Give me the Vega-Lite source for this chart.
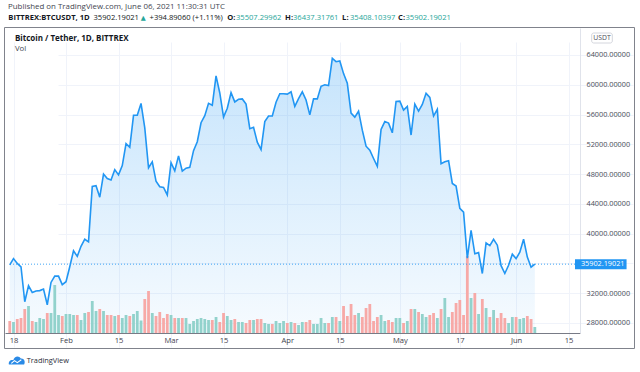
{
  "$schema": "https://vega.github.io/schema/vega-lite/v6.json",
  "width": 630,
  "height": 321,
  "autosize": {"type": "none"},
  "padding": {"left": 4, "top": 27, "right": 6, "bottom": 24},
  "background": "white",
  "config": {"view": {"stroke": "#80838c", "strokeWidth": 1}, "font": "Open Sans"},
  "data": {"values": [
    {"date":"2021-01-17","close":35800,"vol":1200,"dir":"down"},
    {"date":"2021-01-18","close":36650,"vol":1100,"dir":"up"},
    {"date":"2021-01-19","close":36000,"vol":1400,"dir":"down"},
    {"date":"2021-01-20","close":35550,"vol":1500,"dir":"down"},
    {"date":"2021-01-21","close":30850,"vol":2400,"dir":"down"},
    {"date":"2021-01-22","close":33000,"vol":2700,"dir":"up"},
    {"date":"2021-01-23","close":32100,"vol":1200,"dir":"down"},
    {"date":"2021-01-24","close":32300,"vol":1100,"dir":"up"},
    {"date":"2021-01-25","close":32350,"vol":1500,"dir":"up"},
    {"date":"2021-01-26","close":32550,"vol":1400,"dir":"up"},
    {"date":"2021-01-27","close":30450,"vol":2000,"dir":"down"},
    {"date":"2021-01-28","close":33450,"vol":2000,"dir":"up"},
    {"date":"2021-01-29","close":34300,"vol":4800,"dir":"up"},
    {"date":"2021-01-30","close":34300,"vol":1800,"dir":"up"},
    {"date":"2021-01-31","close":33150,"vol":1700,"dir":"down"},
    {"date":"2021-02-01","close":33550,"vol":1900,"dir":"up"},
    {"date":"2021-02-02","close":35550,"vol":1900,"dir":"up"},
    {"date":"2021-02-03","close":37700,"vol":1800,"dir":"up"},
    {"date":"2021-02-04","close":36950,"vol":1800,"dir":"down"},
    {"date":"2021-02-05","close":38300,"vol":1300,"dir":"up"},
    {"date":"2021-02-06","close":39250,"vol":2000,"dir":"up"},
    {"date":"2021-02-07","close":38900,"vol":2100,"dir":"down"},
    {"date":"2021-02-08","close":46350,"vol":3200,"dir":"up"},
    {"date":"2021-02-09","close":46450,"vol":2200,"dir":"up"},
    {"date":"2021-02-10","close":44900,"vol":2400,"dir":"down"},
    {"date":"2021-02-11","close":48000,"vol":2200,"dir":"up"},
    {"date":"2021-02-12","close":47400,"vol":1800,"dir":"down"},
    {"date":"2021-02-13","close":47200,"vol":1800,"dir":"down"},
    {"date":"2021-02-14","close":48600,"vol":1700,"dir":"up"},
    {"date":"2021-02-15","close":47900,"vol":1800,"dir":"down"},
    {"date":"2021-02-16","close":49150,"vol":1500,"dir":"up"},
    {"date":"2021-02-17","close":52100,"vol":1800,"dir":"up"},
    {"date":"2021-02-18","close":51600,"vol":1700,"dir":"down"},
    {"date":"2021-02-19","close":55900,"vol":1900,"dir":"up"},
    {"date":"2021-02-20","close":55900,"vol":2200,"dir":"up"},
    {"date":"2021-02-21","close":57500,"vol":1250,"dir":"up"},
    {"date":"2021-02-22","close":54200,"vol":3400,"dir":"down"},
    {"date":"2021-02-23","close":48850,"vol":4200,"dir":"down"},
    {"date":"2021-02-24","close":49650,"vol":2000,"dir":"up"},
    {"date":"2021-02-25","close":47050,"vol":1700,"dir":"down"},
    {"date":"2021-02-26","close":46300,"vol":2100,"dir":"down"},
    {"date":"2021-02-27","close":46200,"vol":1500,"dir":"down"},
    {"date":"2021-02-28","close":45200,"vol":1900,"dir":"down"},
    {"date":"2021-03-01","close":49550,"vol":1800,"dir":"up"},
    {"date":"2021-03-02","close":48450,"vol":1500,"dir":"down"},
    {"date":"2021-03-03","close":50450,"vol":1500,"dir":"up"},
    {"date":"2021-03-04","close":48400,"vol":1500,"dir":"down"},
    {"date":"2021-03-05","close":48800,"vol":1500,"dir":"up"},
    {"date":"2021-03-06","close":48900,"vol":900,"dir":"up"},
    {"date":"2021-03-07","close":51150,"vol":1200,"dir":"up"},
    {"date":"2021-03-08","close":52350,"vol":1400,"dir":"up"},
    {"date":"2021-03-09","close":54900,"vol":1500,"dir":"up"},
    {"date":"2021-03-10","close":55850,"vol":1400,"dir":"up"},
    {"date":"2021-03-11","close":57500,"vol":1300,"dir":"up"},
    {"date":"2021-03-12","close":57250,"vol":1300,"dir":"down"},
    {"date":"2021-03-13","close":61200,"vol":1600,"dir":"up"},
    {"date":"2021-03-14","close":58900,"vol":1100,"dir":"down"},
    {"date":"2021-03-15","close":55650,"vol":2000,"dir":"down"},
    {"date":"2021-03-16","close":56850,"vol":1700,"dir":"up"},
    {"date":"2021-03-17","close":58950,"vol":1300,"dir":"up"},
    {"date":"2021-03-18","close":57700,"vol":1400,"dir":"down"},
    {"date":"2021-03-19","close":58050,"vol":1100,"dir":"up"},
    {"date":"2021-03-20","close":58100,"vol":1100,"dir":"up"},
    {"date":"2021-03-21","close":57400,"vol":1000,"dir":"down"},
    {"date":"2021-03-22","close":54100,"vol":1300,"dir":"down"},
    {"date":"2021-03-23","close":54300,"vol":1300,"dir":"up"},
    {"date":"2021-03-24","close":52300,"vol":1400,"dir":"down"},
    {"date":"2021-03-25","close":51300,"vol":1400,"dir":"down"},
    {"date":"2021-03-26","close":55050,"vol":1000,"dir":"up"},
    {"date":"2021-03-27","close":55800,"vol":900,"dir":"up"},
    {"date":"2021-03-28","close":55800,"vol":900,"dir":"down"},
    {"date":"2021-03-29","close":57650,"vol":1200,"dir":"up"},
    {"date":"2021-03-30","close":58800,"vol":1000,"dir":"up"},
    {"date":"2021-03-31","close":58800,"vol":1200,"dir":"up"},
    {"date":"2021-04-01","close":58750,"vol":1000,"dir":"down"},
    {"date":"2021-04-02","close":59050,"vol":1100,"dir":"up"},
    {"date":"2021-04-03","close":57100,"vol":1000,"dir":"down"},
    {"date":"2021-04-04","close":58150,"vol":800,"dir":"up"},
    {"date":"2021-04-05","close":59050,"vol":1100,"dir":"up"},
    {"date":"2021-04-06","close":57950,"vol":1100,"dir":"down"},
    {"date":"2021-04-07","close":55950,"vol":1300,"dir":"down"},
    {"date":"2021-04-08","close":58100,"vol":900,"dir":"up"},
    {"date":"2021-04-09","close":58100,"vol":900,"dir":"up"},
    {"date":"2021-04-10","close":59800,"vol":1500,"dir":"up"},
    {"date":"2021-04-11","close":60000,"vol":1000,"dir":"up"},
    {"date":"2021-04-12","close":59900,"vol":1000,"dir":"down"},
    {"date":"2021-04-13","close":63550,"vol":1600,"dir":"up"},
    {"date":"2021-04-14","close":63100,"vol":1600,"dir":"down"},
    {"date":"2021-04-15","close":63200,"vol":1200,"dir":"up"},
    {"date":"2021-04-16","close":61500,"vol":2700,"dir":"down"},
    {"date":"2021-04-17","close":60200,"vol":1700,"dir":"down"},
    {"date":"2021-04-18","close":56200,"vol":2900,"dir":"down"},
    {"date":"2021-04-19","close":55650,"vol":1800,"dir":"down"},
    {"date":"2021-04-20","close":56450,"vol":2000,"dir":"up"},
    {"date":"2021-04-21","close":53900,"vol":1600,"dir":"down"},
    {"date":"2021-04-22","close":51750,"vol":2500,"dir":"down"},
    {"date":"2021-04-23","close":51200,"vol":2900,"dir":"down"},
    {"date":"2021-04-24","close":50100,"vol":1200,"dir":"down"},
    {"date":"2021-04-25","close":49050,"vol":1600,"dir":"down"},
    {"date":"2021-04-26","close":54000,"vol":1800,"dir":"up"},
    {"date":"2021-04-27","close":55050,"vol":1200,"dir":"up"},
    {"date":"2021-04-28","close":54850,"vol":1300,"dir":"down"},
    {"date":"2021-04-29","close":53550,"vol":1100,"dir":"down"},
    {"date":"2021-04-30","close":57750,"vol":1500,"dir":"up"},
    {"date":"2021-05-01","close":57800,"vol":1500,"dir":"up"},
    {"date":"2021-05-02","close":56600,"vol":1000,"dir":"down"},
    {"date":"2021-05-03","close":57100,"vol":1200,"dir":"up"},
    {"date":"2021-05-04","close":53250,"vol":2400,"dir":"down"},
    {"date":"2021-05-05","close":57400,"vol":2400,"dir":"up"},
    {"date":"2021-05-06","close":56450,"vol":2100,"dir":"down"},
    {"date":"2021-05-07","close":57350,"vol":1900,"dir":"up"},
    {"date":"2021-05-08","close":58850,"vol":1600,"dir":"up"},
    {"date":"2021-05-09","close":58300,"vol":1800,"dir":"down"},
    {"date":"2021-05-10","close":55800,"vol":2000,"dir":"down"},
    {"date":"2021-05-11","close":56700,"vol":1500,"dir":"up"},
    {"date":"2021-05-12","close":49400,"vol":2400,"dir":"down"},
    {"date":"2021-05-13","close":49650,"vol":3500,"dir":"up"},
    {"date":"2021-05-14","close":49800,"vol":1600,"dir":"up"},
    {"date":"2021-05-15","close":46750,"vol":2100,"dir":"down"},
    {"date":"2021-05-16","close":46400,"vol":3000,"dir":"down"},
    {"date":"2021-05-17","close":43400,"vol":3300,"dir":"down"},
    {"date":"2021-05-18","close":42900,"vol":1800,"dir":"down"},
    {"date":"2021-05-19","close":36700,"vol":7700,"dir":"down"},
    {"date":"2021-05-20","close":40450,"vol":3500,"dir":"up"},
    {"date":"2021-05-21","close":37300,"vol":4000,"dir":"down"},
    {"date":"2021-05-22","close":37450,"vol":1900,"dir":"up"},
    {"date":"2021-05-23","close":34650,"vol":3400,"dir":"down"},
    {"date":"2021-05-24","close":38750,"vol":2500,"dir":"up"},
    {"date":"2021-05-25","close":38400,"vol":1600,"dir":"down"},
    {"date":"2021-05-26","close":39250,"vol":2300,"dir":"up"},
    {"date":"2021-05-27","close":38450,"vol":1500,"dir":"down"},
    {"date":"2021-05-28","close":35700,"vol":2000,"dir":"down"},
    {"date":"2021-05-29","close":34650,"vol":1500,"dir":"down"},
    {"date":"2021-05-30","close":35750,"vol":1000,"dir":"up"},
    {"date":"2021-05-31","close":37250,"vol":1600,"dir":"up"},
    {"date":"2021-06-01","close":36650,"vol":1600,"dir":"down"},
    {"date":"2021-06-02","close":37500,"vol":1400,"dir":"up"},
    {"date":"2021-06-03","close":39250,"vol":1500,"dir":"up"},
    {"date":"2021-06-04","close":36850,"vol":1700,"dir":"down"},
    {"date":"2021-06-05","close":35500,"vol":1400,"dir":"down"},
    {"date":"2021-06-06","close":35902.19021,"vol":600,"dir":"up"}
  ]},
  "resolve": {"scale": {"y": "independent"}},
  "layer": [
    {
      "mark": {"type": "area", "line": false, "color": {"gradient": "linear", "x1": 0, "y1": 0, "x2": 0, "y2": 1, "stops": [{"offset": 0, "color": "rgba(33,150,243,0.26)"}, {"offset": 1, "color": "rgba(33,150,243,0.04)"}]}},
      "encoding": {
        "x": {"field": "date", "type": "temporal",
          "scale": {"type": "utc", "domain": [{"year": 2021, "month": 1, "date": 17, "hours": 1, "minutes": 34, "utc": true}, {"year": 2021, "month": 6, "date": 16, "hours": 17, "minutes": 2, "utc": true}], "range": [1, 576]},
          "axis": {"orient": "bottom", "offset": -15, "title": null, "grid": true, "gridColor": "#f0f3fa", "ticks": false, "domainColor": "#787b86", "labelPadding": 3, "labelFontSize": 7.6, "labelFont": "Open Sans", "labelColor": "#3f424c", "labelFlush": false, "labelOverlap": false, "labelBound": false,
            "values": [{"year": 2021, "month": 1, "date": 18, "utc": true}, {"year": 2021, "month": 2, "date": 1, "utc": true}, {"year": 2021, "month": 2, "date": 15, "utc": true}, {"year": 2021, "month": 3, "date": 1, "utc": true}, {"year": 2021, "month": 3, "date": 15, "utc": true}, {"year": 2021, "month": 4, "date": 1, "utc": true}, {"year": 2021, "month": 4, "date": 15, "utc": true}, {"year": 2021, "month": 5, "date": 1, "utc": true}, {"year": 2021, "month": 5, "date": 17, "utc": true}, {"year": 2021, "month": 6, "date": 1, "utc": true}, {"year": 2021, "month": 6, "date": 15, "utc": true}],
            "labelExpr": "utcdate(datum.value) == 1 ? utcFormat(datum.value, '%b') : utcFormat(datum.value, '%d')"}},
        "y": {"field": "close", "type": "quantitative",
          "scale": {"domain": [26655, 67627], "range": [306, 1], "nice": false, "zero": false},
          "axis": {"orient": "right", "offset": -54, "title": null, "grid": true, "gridColor": "#f0f3fa", "ticks": false, "domainColor": "#e0e3eb", "labelPadding": 6, "labelFontSize": 7.3, "labelFont": "Open Sans", "labelColor": "#4a4d57", "labelAlign": "left", "labelBaseline": "middle",
            "values": [28000, 32000, 36000, 40000, 44000, 48000, 52000, 56000, 60000, 64000],
            "labelExpr": "datum.value == 36000 ? '' : format(datum.value, '.5f')"}},
        "y2": {"datum": 26655}
      }
    },
    {
      "mark": {"type": "bar", "width": 2.8},
      "encoding": {
        "x": {"field": "date", "type": "temporal"},
        "y": {"field": "vol", "type": "quantitative", "scale": {"domain": [0, 30500], "range": [306, 1], "nice": false, "zero": true}, "axis": null},
        "color": {"field": "dir", "type": "nominal", "scale": {"domain": ["up", "down"], "range": ["#92d2cc", "#f7a9a7"]}, "legend": null}
      }
    },
    {
      "mark": {"type": "line", "color": "#2196f3", "strokeWidth": 1.6},
      "encoding": {
        "x": {"field": "date", "type": "temporal"},
        "y": {"field": "close", "type": "quantitative", "scale": {"domain": [26655, 67627], "range": [306, 1], "nice": false, "zero": false}, "axis": null}
      }
    },
    {
      "data": {"values": [{}]},
      "mark": {"type": "rule", "color": "#2196f3", "strokeDash": [1, 2], "strokeWidth": 1, "opacity": 0.85},
      "encoding": {
        "x": {"datum": {"year": 2021, "month": 1, "date": 17, "hours": 1, "minutes": 34, "utc": true}, "type": "temporal"},
        "x2": {"datum": {"year": 2021, "month": 6, "date": 16, "hours": 17, "minutes": 2, "utc": true}},
        "y": {"datum": 35902.19021, "type": "quantitative", "scale": {"domain": [26655, 67627], "range": [306, 1], "nice": false, "zero": false}, "axis": null}
      }
    },
    {
      "data": {"values": [{}]},
      "mark": {"type": "rect", "color": "#2196f3"},
      "encoding": {
        "x": {"datum": {"year": 2021, "month": 6, "date": 16, "hours": 17, "utc": true}, "type": "temporal"},
        "x2": {"datum": {"year": 2021, "month": 6, "date": 30, "hours": 11, "utc": true}},
        "y": {"datum": 35225, "type": "quantitative", "scale": {"domain": [26655, 67627], "range": [306, 1], "nice": false, "zero": false}, "axis": null},
        "y2": {"datum": 36570}
      }
    },
    {
      "data": {"values": [{}]},
      "mark": {"type": "text", "align": "left", "baseline": "middle", "font": "Open Sans", "fontSize": 7.3, "color": "white"},
      "encoding": {
        "x": {"datum": {"year": 2021, "month": 6, "date": 18, "hours": 6, "minutes": 40, "utc": true}, "type": "temporal"},
        "y": {"datum": 35902.19021, "type": "quantitative", "scale": {"domain": [26655, 67627], "range": [306, 1], "nice": false, "zero": false}, "axis": null},
        "text": {"value": "35902.19021"}
      }
    },
    {
      "data": {"values": [{}]},
      "mark": {"type": "rect", "fill": "white", "stroke": "#c9ccd4", "strokeWidth": 0.8, "cornerRadius": 2},
      "encoding": {
        "x": {"datum": {"year": 2021, "month": 6, "date": 21, "hours": 3, "minutes": 50, "utc": true}, "type": "temporal"},
        "x2": {"datum": {"year": 2021, "month": 6, "date": 26, "hours": 15, "minutes": 50, "utc": true}},
        "y": {"datum": 65611, "type": "quantitative", "scale": {"domain": [26655, 67627], "range": [306, 1], "nice": false, "zero": false}, "axis": null},
        "y2": {"datum": 66954}
      }
    },
    {
      "data": {"values": [{}]},
      "mark": {"type": "text", "align": "center", "baseline": "middle", "font": "Open Sans", "fontSize": 6.8, "color": "#4a4d57"},
      "encoding": {
        "x": {"datum": {"year": 2021, "month": 6, "date": 23, "hours": 21, "minutes": 50, "utc": true}, "type": "temporal"},
        "y": {"datum": 66282, "type": "quantitative", "scale": {"domain": [26655, 67627], "range": [306, 1], "nice": false, "zero": false}, "axis": null},
        "text": {"value": "USDT"}
      }
    },
    {
      "data": {"values": [{}]},
      "mark": {"type": "text", "align": "left", "baseline": "middle", "font": "Open Sans", "fontSize": 7.9, "color": "#434651"},
      "encoding": {
        "x": {"datum": {"year": 2021, "month": 1, "date": 16, "hours": 13, "utc": true}, "type": "temporal"},
        "y": {"datum": 70473, "type": "quantitative", "scale": {"domain": [26655, 67627], "range": [306, 1], "nice": false, "zero": false}, "axis": null},
        "text": {"value": "Published on TradingView.com, June 06, 2021 11:30:31 UTC"}
      }
    },
    {
      "data": {"values": [{}]},
      "mark": {"type": "text", "align": "left", "baseline": "middle", "font": "Open Sans", "fontSize": 7.6, "fontWeight": "bold", "color": "#131722"},
      "encoding": {
        "x": {"datum": {"year": 2021, "month": 1, "date": 16, "hours": 15, "utc": true}, "type": "temporal"},
        "y": {"datum": 69036, "type": "quantitative", "scale": {"domain": [26655, 67627], "range": [306, 1], "nice": false, "zero": false}, "axis": null},
        "text": {"value": "BITTREX:BTCUSDT, 1D"}
      }
    },
    {
      "data": {"values": [{}]},
      "mark": {"type": "text", "align": "left", "baseline": "middle", "font": "Open Sans", "fontSize": 7.6, "color": "#131722"},
      "encoding": {
        "x": {"datum": {"year": 2021, "month": 2, "date": 8, "hours": 8, "utc": true}, "type": "temporal"},
        "y": {"datum": 69036, "type": "quantitative", "scale": {"domain": [26655, 67627], "range": [306, 1], "nice": false, "zero": false}, "axis": null},
        "text": {"value": "35902.19021"}
      }
    },
    {
      "data": {"values": [{}]},
      "mark": {"type": "text", "align": "left", "baseline": "middle", "font": "DejaVu Sans", "fontSize": 6.5, "color": "#26a69a"},
      "encoding": {
        "x": {"datum": {"year": 2021, "month": 2, "date": 20, "hours": 21, "minutes": 50, "utc": true}, "type": "temporal"},
        "y": {"datum": 69036, "type": "quantitative", "scale": {"domain": [26655, 67627], "range": [306, 1], "nice": false, "zero": false}, "axis": null},
        "text": {"value": "▲"}
      }
    },
    {
      "data": {"values": [{}]},
      "mark": {"type": "text", "align": "left", "baseline": "middle", "font": "Open Sans", "fontSize": 7.6, "color": "#131722"},
      "encoding": {
        "x": {"datum": {"year": 2021, "month": 2, "date": 23, "hours": 6, "minutes": 30, "utc": true}, "type": "temporal"},
        "y": {"datum": 69036, "type": "quantitative", "scale": {"domain": [26655, 67627], "range": [306, 1], "nice": false, "zero": false}, "axis": null},
        "text": {"value": "+394.89060 (+1.11%)"}
      }
    },
    {
      "data": {"values": [{}]},
      "mark": {"type": "text", "align": "left", "baseline": "middle", "font": "Open Sans", "fontSize": 7.6, "fontWeight": "bold", "color": "#131722"},
      "encoding": {
        "x": {"datum": {"year": 2021, "month": 3, "date": 15, "hours": 23, "utc": true}, "type": "temporal"},
        "y": {"datum": 69036, "type": "quantitative", "scale": {"domain": [26655, 67627], "range": [306, 1], "nice": false, "zero": false}, "axis": null},
        "text": {"value": "O:"}
      }
    },
    {
      "data": {"values": [{}]},
      "mark": {"type": "text", "align": "left", "baseline": "middle", "font": "Open Sans", "fontSize": 7.6, "color": "#26a69a"},
      "encoding": {
        "x": {"datum": {"year": 2021, "month": 3, "date": 18, "hours": 7, "minutes": 40, "utc": true}, "type": "temporal"},
        "y": {"datum": 69036, "type": "quantitative", "scale": {"domain": [26655, 67627], "range": [306, 1], "nice": false, "zero": false}, "axis": null},
        "text": {"value": "35507.29962"}
      }
    },
    {
      "data": {"values": [{}]},
      "mark": {"type": "text", "align": "left", "baseline": "middle", "font": "Open Sans", "fontSize": 7.6, "fontWeight": "bold", "color": "#131722"},
      "encoding": {
        "x": {"datum": {"year": 2021, "month": 3, "date": 31, "hours": 10, "utc": true}, "type": "temporal"},
        "y": {"datum": 69036, "type": "quantitative", "scale": {"domain": [26655, 67627], "range": [306, 1], "nice": false, "zero": false}, "axis": null},
        "text": {"value": "H:"}
      }
    },
    {
      "data": {"values": [{}]},
      "mark": {"type": "text", "align": "left", "baseline": "middle", "font": "Open Sans", "fontSize": 7.6, "color": "#26a69a"},
      "encoding": {
        "x": {"datum": {"year": 2021, "month": 4, "date": 2, "hours": 12, "minutes": 30, "utc": true}, "type": "temporal"},
        "y": {"datum": 69036, "type": "quantitative", "scale": {"domain": [26655, 67627], "range": [306, 1], "nice": false, "zero": false}, "axis": null},
        "text": {"value": "36437.31761"}
      }
    },
    {
      "data": {"values": [{}]},
      "mark": {"type": "text", "align": "left", "baseline": "middle", "font": "Open Sans", "fontSize": 7.6, "fontWeight": "bold", "color": "#131722"},
      "encoding": {
        "x": {"datum": {"year": 2021, "month": 4, "date": 15, "hours": 14, "minutes": 50, "utc": true}, "type": "temporal"},
        "y": {"datum": 69036, "type": "quantitative", "scale": {"domain": [26655, 67627], "range": [306, 1], "nice": false, "zero": false}, "axis": null},
        "text": {"value": "L:"}
      }
    },
    {
      "data": {"values": [{}]},
      "mark": {"type": "text", "align": "left", "baseline": "middle", "font": "Open Sans", "fontSize": 7.6, "color": "#26a69a"},
      "encoding": {
        "x": {"datum": {"year": 2021, "month": 4, "date": 17, "hours": 17, "utc": true}, "type": "temporal"},
        "y": {"datum": 69036, "type": "quantitative", "scale": {"domain": [26655, 67627], "range": [306, 1], "nice": false, "zero": false}, "axis": null},
        "text": {"value": "35408.10397"}
      }
    },
    {
      "data": {"values": [{}]},
      "mark": {"type": "text", "align": "left", "baseline": "middle", "font": "Open Sans", "fontSize": 7.6, "fontWeight": "bold", "color": "#131722"},
      "encoding": {
        "x": {"datum": {"year": 2021, "month": 4, "date": 30, "hours": 13, "minutes": 10, "utc": true}, "type": "temporal"},
        "y": {"datum": 69036, "type": "quantitative", "scale": {"domain": [26655, 67627], "range": [306, 1], "nice": false, "zero": false}, "axis": null},
        "text": {"value": "C:"}
      }
    },
    {
      "data": {"values": [{}]},
      "mark": {"type": "text", "align": "left", "baseline": "middle", "font": "Open Sans", "fontSize": 7.6, "color": "#26a69a"},
      "encoding": {
        "x": {"datum": {"year": 2021, "month": 5, "date": 2, "hours": 12, "minutes": 15, "utc": true}, "type": "temporal"},
        "y": {"datum": 69036, "type": "quantitative", "scale": {"domain": [26655, 67627], "range": [306, 1], "nice": false, "zero": false}, "axis": null},
        "text": {"value": "35902.19021"}
      }
    },
    {
      "data": {"values": [{}]},
      "mark": {"type": "text", "align": "left", "baseline": "middle", "font": "Open Sans", "fontSize": 8, "fontWeight": "bold", "color": "#131722"},
      "encoding": {
        "x": {"datum": {"year": 2021, "month": 1, "date": 18, "hours": 9, "utc": true}, "type": "temporal"},
        "y": {"datum": 66215, "type": "quantitative", "scale": {"domain": [26655, 67627], "range": [306, 1], "nice": false, "zero": false}, "axis": null},
        "text": {"value": "Bitcoin / Tether, 1D, BITTREX"}
      }
    },
    {
      "data": {"values": [{}]},
      "mark": {"type": "text", "align": "left", "baseline": "middle", "font": "Open Sans", "fontSize": 7.8, "color": "#434651"},
      "encoding": {
        "x": {"datum": {"year": 2021, "month": 1, "date": 18, "hours": 9, "utc": true}, "type": "temporal"},
        "y": {"datum": 64805, "type": "quantitative", "scale": {"domain": [26655, 67627], "range": [306, 1], "nice": false, "zero": false}, "axis": null},
        "text": {"value": "Vol"}
      }
    },
    {
      "data": {"values": [{}]},
      "mark": {"type": "point", "filled": true, "color": "#2a8ae6", "opacity": 1, "size": 256, "shape": "M-1,0.45 C-1.1,0.05 -0.75,-0.2 -0.45,-0.1 C-0.35,-0.6 0.25,-0.75 0.5,-0.3 C0.9,-0.35 1.1,0.1 0.9,0.45 Z"},
      "encoding": {
        "x": {"datum": {"year": 2021, "month": 1, "date": 18, "hours": 21, "minutes": 40, "utc": true}, "type": "temporal"},
        "y": {"datum": 22894, "type": "quantitative", "scale": {"domain": [26655, 67627], "range": [306, 1], "nice": false, "zero": false}, "axis": null}
      }
    },
    {
      "data": {"values": [{}]},
      "mark": {"type": "point", "filled": false, "color": "white", "strokeWidth": 1.1, "opacity": 1, "size": 256, "shape": "M-0.7,0.3 L-0.3,-0.05 L0.05,0.2 L0.55,-0.15"},
      "encoding": {
        "x": {"datum": {"year": 2021, "month": 1, "date": 18, "hours": 21, "minutes": 40, "utc": true}, "type": "temporal"},
        "y": {"datum": 22894, "type": "quantitative", "scale": {"domain": [26655, 67627], "range": [306, 1], "nice": false, "zero": false}, "axis": null}
      }
    },
    {
      "data": {"values": [{}]},
      "mark": {"type": "text", "align": "left", "baseline": "middle", "font": "Open Sans", "fontSize": 7.4, "color": "#2a2e39"},
      "encoding": {
        "x": {"datum": {"year": 2021, "month": 1, "date": 21, "hours": 12, "minutes": 30, "utc": true}, "type": "temporal"},
        "y": {"datum": 22934, "type": "quantitative", "scale": {"domain": [26655, 67627], "range": [306, 1], "nice": false, "zero": false}, "axis": null},
        "text": {"value": "TradingView"}
      }
    }
  ]
}
